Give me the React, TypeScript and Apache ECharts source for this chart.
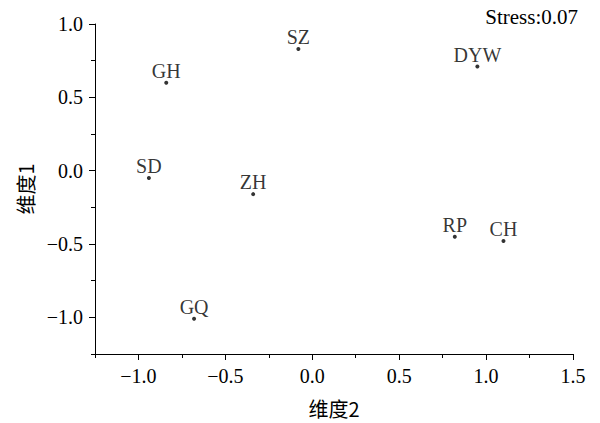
import React, { useEffect, useRef } from "react";
import * as echarts from "echarts";

const names = ["SZ", "GH", "SD", "ZH", "GQ", "DYW", "RP", "CH"];
const dim2 = [-0.08, -0.84, -0.94, -0.34, -0.68, 0.95, 0.82, 1.1];
const dim1 = [0.83, 0.6, -0.05, -0.16, -1.01, 0.71, -0.45, -0.48];
const xMajorTicks = [-1.0, -0.5, 0.0, 0.5, 1.0, 1.5];
const yMajorTicks = [-1.0, -0.5, 0.0, 0.5, 1.0];
const stressText = "Stress:0.07";
const xName = "维度2";
const yName = "维度1";

const SERIF = "Liberation Serif, Times New Roman, Noto Sans CJK SC, serif";
const CJK = "Noto Sans CJK SC, Liberation Serif, serif";

const fmt = (v: number) => {
  const s = v.toFixed(1);
  return s.startsWith("-") ? "\u2212" + s.slice(1) : s;
};

export default function App() {
  const ref = useRef<HTMLDivElement>(null);
  useEffect(() => {
    if (!ref.current) return;
    const chart = echarts.init(ref.current, undefined, { renderer: "svg" });
    const grid = { left: 95, right: 27, top: 24, bottom: 63 };
    const axisLineStyle = { color: "#000", width: 1 };
    const labelStyle = { color: "#000", fontFamily: SERIF, fontSize: 20 };
    chart.setOption({
      animation: false,
      backgroundColor: "#fff",
      grid,
      title: {
        text: stressText,
        right: 17,
        top: 1,
        textStyle: {
          color: "#000",
          fontFamily: SERIF,
          fontSize: 21,
          fontWeight: "normal",
        },
      },
      xAxis: [
        {
          type: "value",
          min: -1.25,
          max: 1.5,
          interval: 0.25,
          position: "bottom",
          splitLine: { show: false },
          axisLine: { show: true, onZero: false, lineStyle: axisLineStyle },
          axisTick: { show: true, inside: false, length: 4, lineStyle: axisLineStyle },
          axisLabel: {
            show: true,
            customValues: xMajorTicks,
            formatter: (v: number) => fmt(v),
            margin: 12,
            ...labelStyle,
          },
          name: xName,
          nameLocation: "middle",
          nameGap: 44,
          nameTextStyle: { ...labelStyle, fontFamily: CJK },
        },
        {
          type: "value",
          min: -1.25,
          max: 1.5,
          position: "bottom",
          offset: 0,
          splitLine: { show: false },
          axisLine: { show: false, onZero: false },
          axisTick: {
            show: true,
            inside: false,
            length: 6,
            customValues: xMajorTicks,
            lineStyle: axisLineStyle,
          },
          axisLabel: { show: false },
        },
      ],
      yAxis: [
        {
          type: "value",
          min: -1.25,
          max: 1.0,
          interval: 0.25,
          position: "left",
          splitLine: { show: false },
          axisLine: { show: true, onZero: false, lineStyle: axisLineStyle },
          axisTick: { show: true, inside: false, length: 4, lineStyle: axisLineStyle },
          axisLabel: {
            show: true,
            customValues: yMajorTicks,
            formatter: (v: number) => fmt(v),
            margin: 12,
            ...labelStyle,
          },
          name: yName,
          nameLocation: "middle",
          nameGap: 60,
          nameRotate: 90,
          nameTextStyle: { ...labelStyle, fontFamily: CJK },
        },
        {
          type: "value",
          min: -1.25,
          max: 1.0,
          position: "left",
          offset: 0,
          splitLine: { show: false },
          axisLine: { show: false, onZero: false },
          axisTick: {
            show: true,
            inside: false,
            length: 6,
            customValues: yMajorTicks,
            lineStyle: axisLineStyle,
          },
          axisLabel: { show: false },
        },
      ],
      series: [
        {
          type: "scatter",
          xAxisIndex: 0,
          yAxisIndex: 0,
          symbol: "circle",
          symbolSize: 4,
          itemStyle: { color: "#000" },
          data: names.map((n, i) => ({ name: n, value: [dim2[i], dim1[i]] })),
          label: {
            show: true,
            position: "top",
            distance: 0,
            formatter: (p: any) => p.name,
            color: "#000",
            fontFamily: SERIF,
            fontSize: 20,
          },
        },
      ],
    });
    return () => chart.dispose();
  }, []);
  return (
    <div
      ref={ref}
      style={{ position: "fixed", left: 0, top: 0, width: 600, height: 423, background: "#fff" }}
    />
  );
}
